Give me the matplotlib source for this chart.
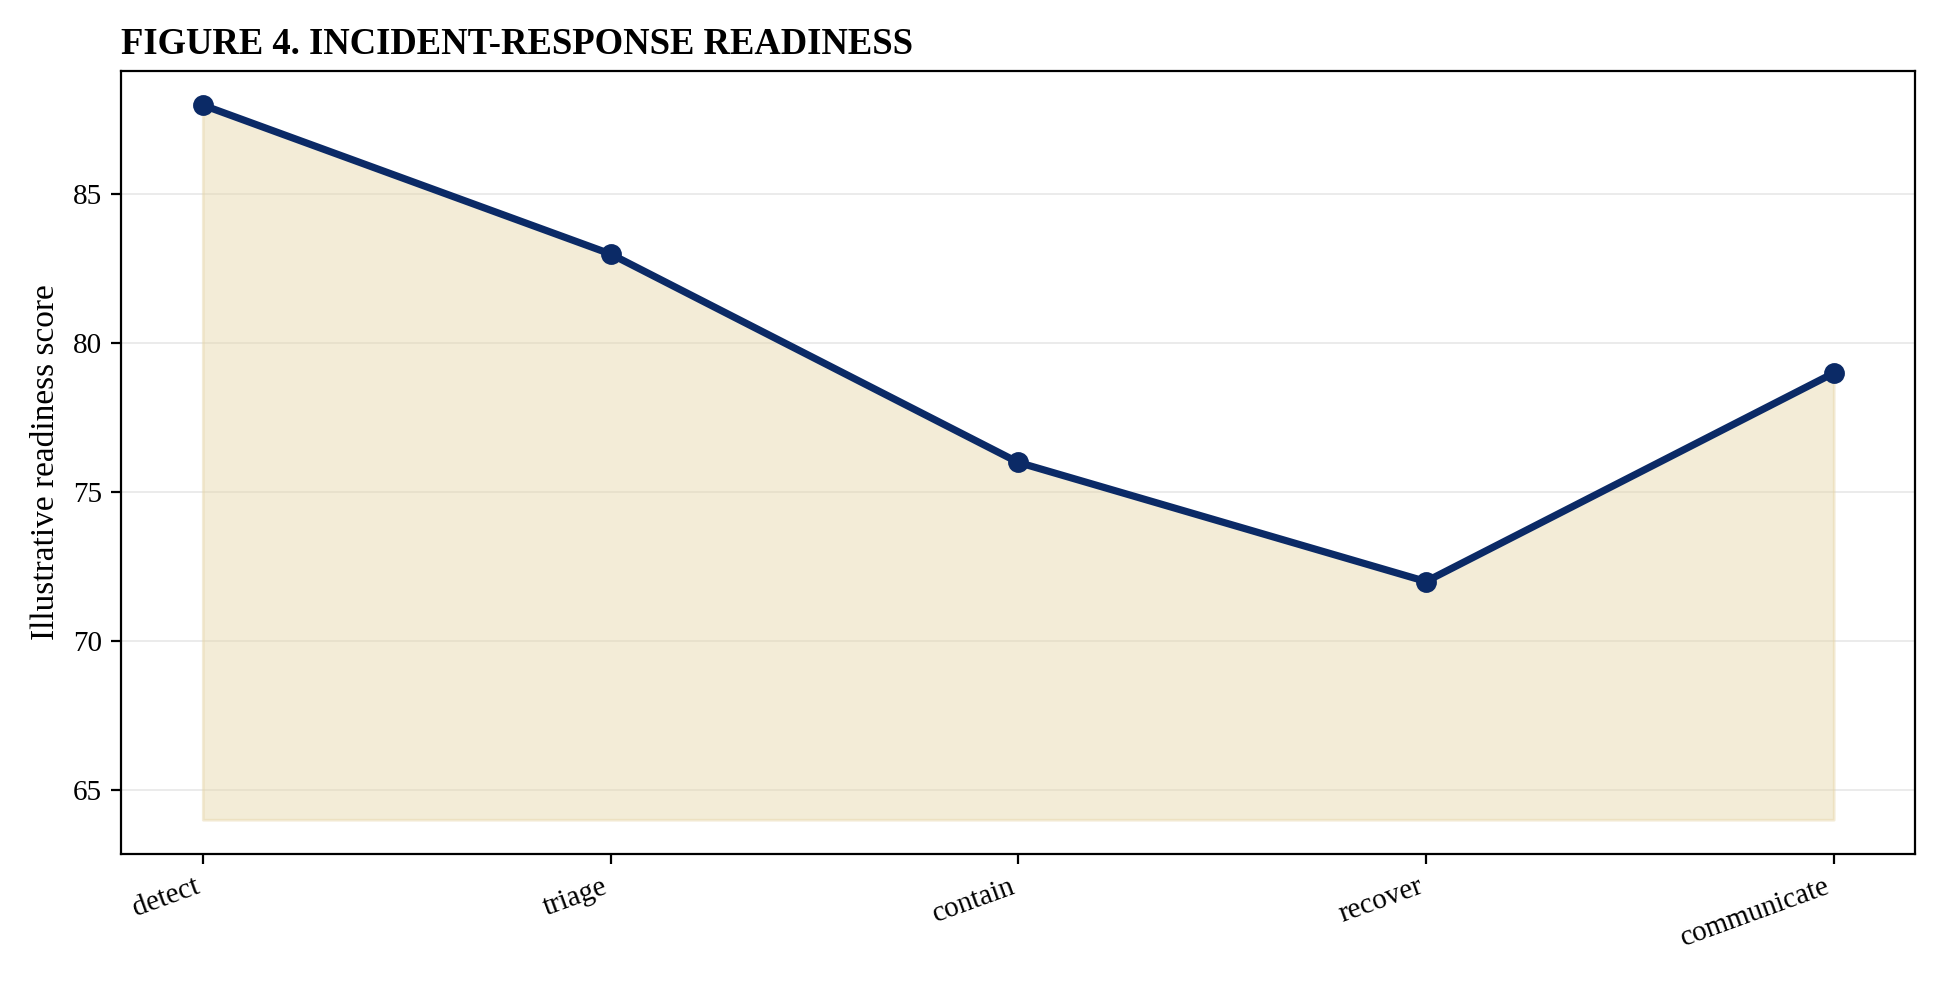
import matplotlib
matplotlib.use("Agg")
import matplotlib.pyplot as plt

categories = ["detect", "triage", "contain", "recover", "communicate"]
values = [88, 83, 76, 72, 79]
baseline = 64

plt.rcParams['font.family'] = ['Liberation Serif', 'DejaVu Serif']
fig = plt.figure(figsize=(9.7, 4.915), dpi=200)
W, H = 1568, 794
ax = fig.add_axes([98/W, 1-690/H, (1548-98)/W, (690-57)/H])
x = list(range(len(categories)))
ax.fill_between(x, values, baseline, color="#e6d5a8", alpha=0.45, edgecolor="#e6d5a8", linewidth=1)
ax.plot(x, values, color="#0b2a66", linewidth=2.6, marker="o", markersize=6.5)
ax.set_xlim(-0.2, 4.2)
ax.set_ylim(62.84, 89.16)
ax.set_yticks([65, 70, 75, 80, 85])
ax.set_xticks(x)
ax.set_xticklabels(categories, rotation=20, ha="right")
ax.tick_params(labelsize=10.5)
ax.grid(axis="y", color="#dddddd", linewidth=0.6, alpha=0.7)
ax.set_axisbelow(True)
ax.set_ylabel("Illustrative readiness score", fontsize=12)
ax.set_title("FIGURE 4. INCIDENT-RESPONSE READINESS", loc="left", fontweight="bold", fontsize=13.2)
fig.savefig("out.png", dpi=200)
